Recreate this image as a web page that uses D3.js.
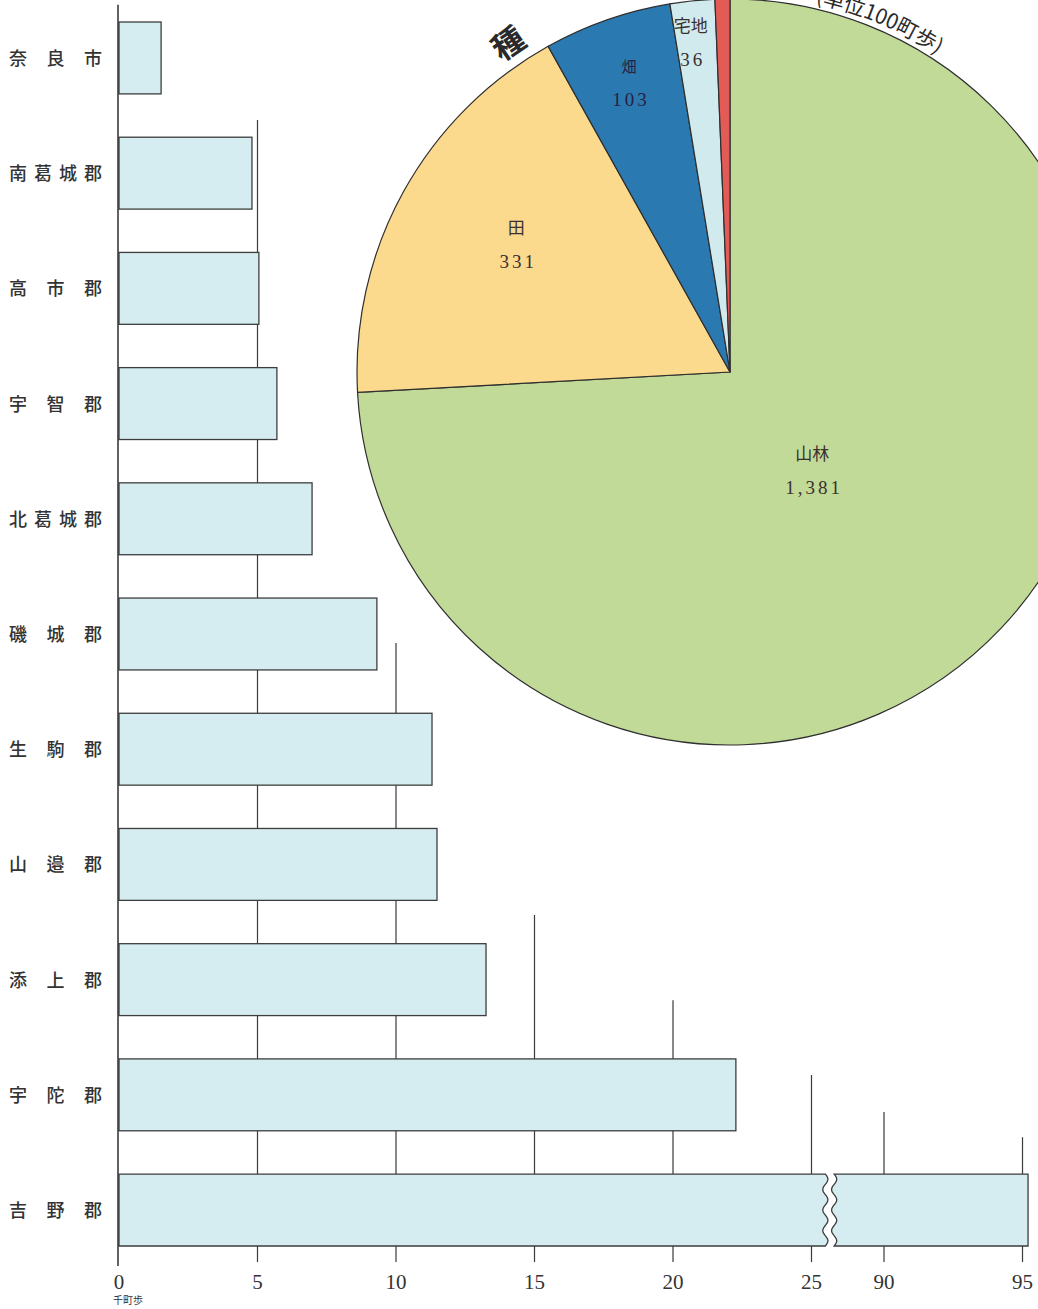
<!DOCTYPE html>
<html><head><meta charset="utf-8">
<script src="https://cdn.jsdelivr.net/npm/d3@7"></script>
<style>
html,body{margin:0;padding:0;background:#fff;}
svg{display:block;}
</style></head>
<body>
<script>
// ---- data ----
const categories = ["奈良市","南葛城郡","高市郡","宇智郡","北葛城郡","磯城郡","生駒郡","山邉郡","添上郡","宇陀郡","吉野郡"];
const values = [1.52, 4.80, 5.05, 5.70, 6.97, 9.31, 11.30, 11.48, 13.25, 22.27, 95.2]; // 千町歩
const tickValues = [0, 5, 10, 15, 20, 25, 90, 95];
const tickLabels = ["0","5","10","15","20","25","90","95"];
const gridStartRow = [null, 0.85, 5.39, 7.75, 8.49, 9.14, 9.46, 9.68];
const unitLabel = "千町歩";

const pieLabels = ["山林","田","畑","宅地","其他"];
const pieValues = [1381, 331, 103, 36, 12]; // 単位100町歩
const pieValueText = ["1,381","331","103","36",""];
const pieColors = ["#c1da97","#fbd98d","#2b79b1","#d1eaee","#e35b56"];
const pieTitleChar = "種";
const pieUnit = "(単位100町歩)";

// ---- layout ----
const W = 1038, H = 1309;
const svg = d3.select("body").append("svg").attr("width", W).attr("height", H);

// broken x scale
const k = 27.7, x0 = 119, brkL = 25.5, brkR = 88.2, gap = 8.8;
const x = d3.scaleLinear()
  .domain([0, brkL, brkR, 100])
  .range([x0, x0 + brkL * k, x0 + brkL * k + gap, x0 + brkL * k + gap + (100 - brkR) * k]);

const y = d3.scaleBand().domain(categories).range([22, 1246]).paddingInner(0.376).paddingOuter(0);
const step = y.step();
const rowY = r => 22 + r * step;
const barBottom = y(categories[categories.length - 1]) + y.bandwidth();

// gridlines / ticks
const g = svg.append("g");
tickValues.forEach((v, i) => {
  if (v === 0) return;
  g.append("line")
    .attr("x1", x(v)).attr("x2", x(v))
    .attr("y1", rowY(gridStartRow[i])).attr("y2", barBottom + 16)
    .attr("stroke", "#3a3a3a").attr("stroke-width", 1.2);
});

// bars
const bars = svg.append("g");
const barFill = "#d5edf0", barStroke = "#3d3d3d";
function wavePts(xc, y0, y1, dir) {
  const n = 40, pts = [];
  for (let j = 0; j <= n; j++) {
    const t = j / n;
    pts.push([xc + 2.6 * Math.sin(t * Math.PI * 2 * 3.5), y0 + t * (y1 - y0)]);
  }
  return dir > 0 ? pts : pts.reverse();
}
const line = d3.line().curve(d3.curveLinear);
categories.forEach((c, i) => {
  const v = values[i], top = y(c), bot = top + y.bandwidth();
  if (v < brkL) {
    bars.append("rect")
      .attr("x", x(0)).attr("y", top)
      .attr("width", x(v) - x(0)).attr("height", y.bandwidth())
      .attr("fill", barFill).attr("stroke", barStroke).attr("stroke-width", 1.3);
  } else {
    const xl = x(brkL), xr = x(brkR);
    const leftPts = [[x(0), bot], [x(0), top]].concat(wavePts(xl, top, bot, 1));
    bars.append("path").attr("d", line(leftPts) + "Z")
      .attr("fill", barFill).attr("stroke", barStroke).attr("stroke-width", 1.3);
    const rightPts = [[x(v), top], [x(v), bot]].concat(wavePts(xr, top, bot, -1));
    bars.append("path").attr("d", line(rightPts) + "Z")
      .attr("fill", barFill).attr("stroke", barStroke).attr("stroke-width", 1.3);
  }
  // label characters spread
  const chars = Array.from(c);
  const a = 18, b = 93;
  chars.forEach((ch, j) => {
    const cx = a + (b - a) * j / (chars.length - 1);
    svg.append("text")
      .attr("x", cx).attr("y", top + y.bandwidth() / 2 + 7)
      .attr("text-anchor", "middle")
      .attr("font-family", "'Noto Sans CJK JP', sans-serif")
      .attr("font-size", 18).attr("font-weight", 500).attr("fill", "#333")
      .text(ch);
  });
});

// y axis line
svg.append("line").attr("x1", x0 - 1).attr("x2", x0 - 1)
  .attr("y1", rowY(-0.15)).attr("y2", barBottom + 20)
  .attr("stroke", "#2e2e2e").attr("stroke-width", 1.5);

// tick labels
tickValues.forEach((v, i) => {
  svg.append("text")
    .attr("x", x(v)).attr("y", barBottom + 43)
    .attr("text-anchor", "middle")
    .attr("font-family", "'Liberation Serif', serif")
    .attr("font-size", 21).attr("fill", "#333")
    .text(tickLabels[i]);
});
svg.append("text").attr("x", x0 + 9).attr("y", barBottom + 58)
  .attr("text-anchor", "middle")
  .attr("font-family", "'Noto Sans CJK JP', sans-serif")
  .attr("font-size", 10).attr("fill", "#333").text(unitLabel);

// ---- pie ----
const cx = 730, cy = 372, R = 373;
const pg = svg.append("g").attr("transform", `translate(${cx},${cy})`);
const pie = d3.pie().sort(null).value(d => d)(pieValues);
const arc = d3.arc().innerRadius(0).outerRadius(R);
pg.selectAll("path.slice").data(pie).join("path")
  .attr("class", "slice")
  .attr("d", arc)
  .attr("fill", (d, i) => pieColors[i])
  .attr("stroke", "#2f2f2f").attr("stroke-width", 1.2);

const labelStyle = [
  {r: 128, shift: 6.6}, {r: 249, shift: 2}, {r: 307, shift: 0}, {r: 332, shift: -1}, null
];
pie.forEach((d, i) => {
  const st = labelStyle[i];
  if (!st) return;
  const ang = (d.startAngle + d.endAngle) / 2 + st.shift * Math.PI / 180;
  const lx = st.r * Math.sin(ang), ly = -st.r * Math.cos(ang);
  const col = "#3a3030";
  pg.append("text").attr("x", lx).attr("y", ly - 10)
    .attr("text-anchor", "middle")
    .attr("font-family", "'Noto Sans CJK JP', sans-serif")
    .attr("font-size", i === 2 ? 15 : 17).attr("fill", i === 2 ? "#2a2040" : col)
    .text(pieLabels[i]);
  pg.append("text").attr("x", lx + 2).attr("y", ly + 24)
    .attr("text-anchor", "middle")
    .attr("font-family", "'Liberation Serif', serif")
    .attr("font-size", 19).attr("letter-spacing", 3).attr("fill", i === 2 ? "#2a2040" : col)
    .text(pieValueText[i]);
});

// title char "種"
{
  const ang = -34 * Math.PI / 180, rr = 396;
  const tx = rr * Math.sin(ang), ty = -rr * Math.cos(ang);
  pg.append("text")
    .attr("transform", `translate(${tx},${ty}) rotate(-34)`)
    .attr("text-anchor", "middle").attr("dy", "0.35em")
    .attr("font-family", "'Noto Sans CJK JP', sans-serif")
    .attr("font-weight", 700)
    .attr("font-size", 32).attr("fill", "#2a2a2a")
    .text(pieTitleChar);
}
// unit along arc
{
  const rr = 379;
  const a0 = 13 * Math.PI / 180, a1 = 80 * Math.PI / 180;
  const p = d3.path();
  p.arc(0, 0, rr, a0 - Math.PI / 2, a1 - Math.PI / 2, false);
  pg.append("path").attr("id", "unitArc").attr("d", p.toString()).attr("fill", "none");
  pg.append("text")
    .attr("font-family", "'Noto Sans CJK JP', sans-serif")
    .attr("font-size", 21).attr("fill", "#2a2a2a")
    .append("textPath").attr("href", "#unitArc")
    .text(pieUnit);
}
</script>
</body></html>
